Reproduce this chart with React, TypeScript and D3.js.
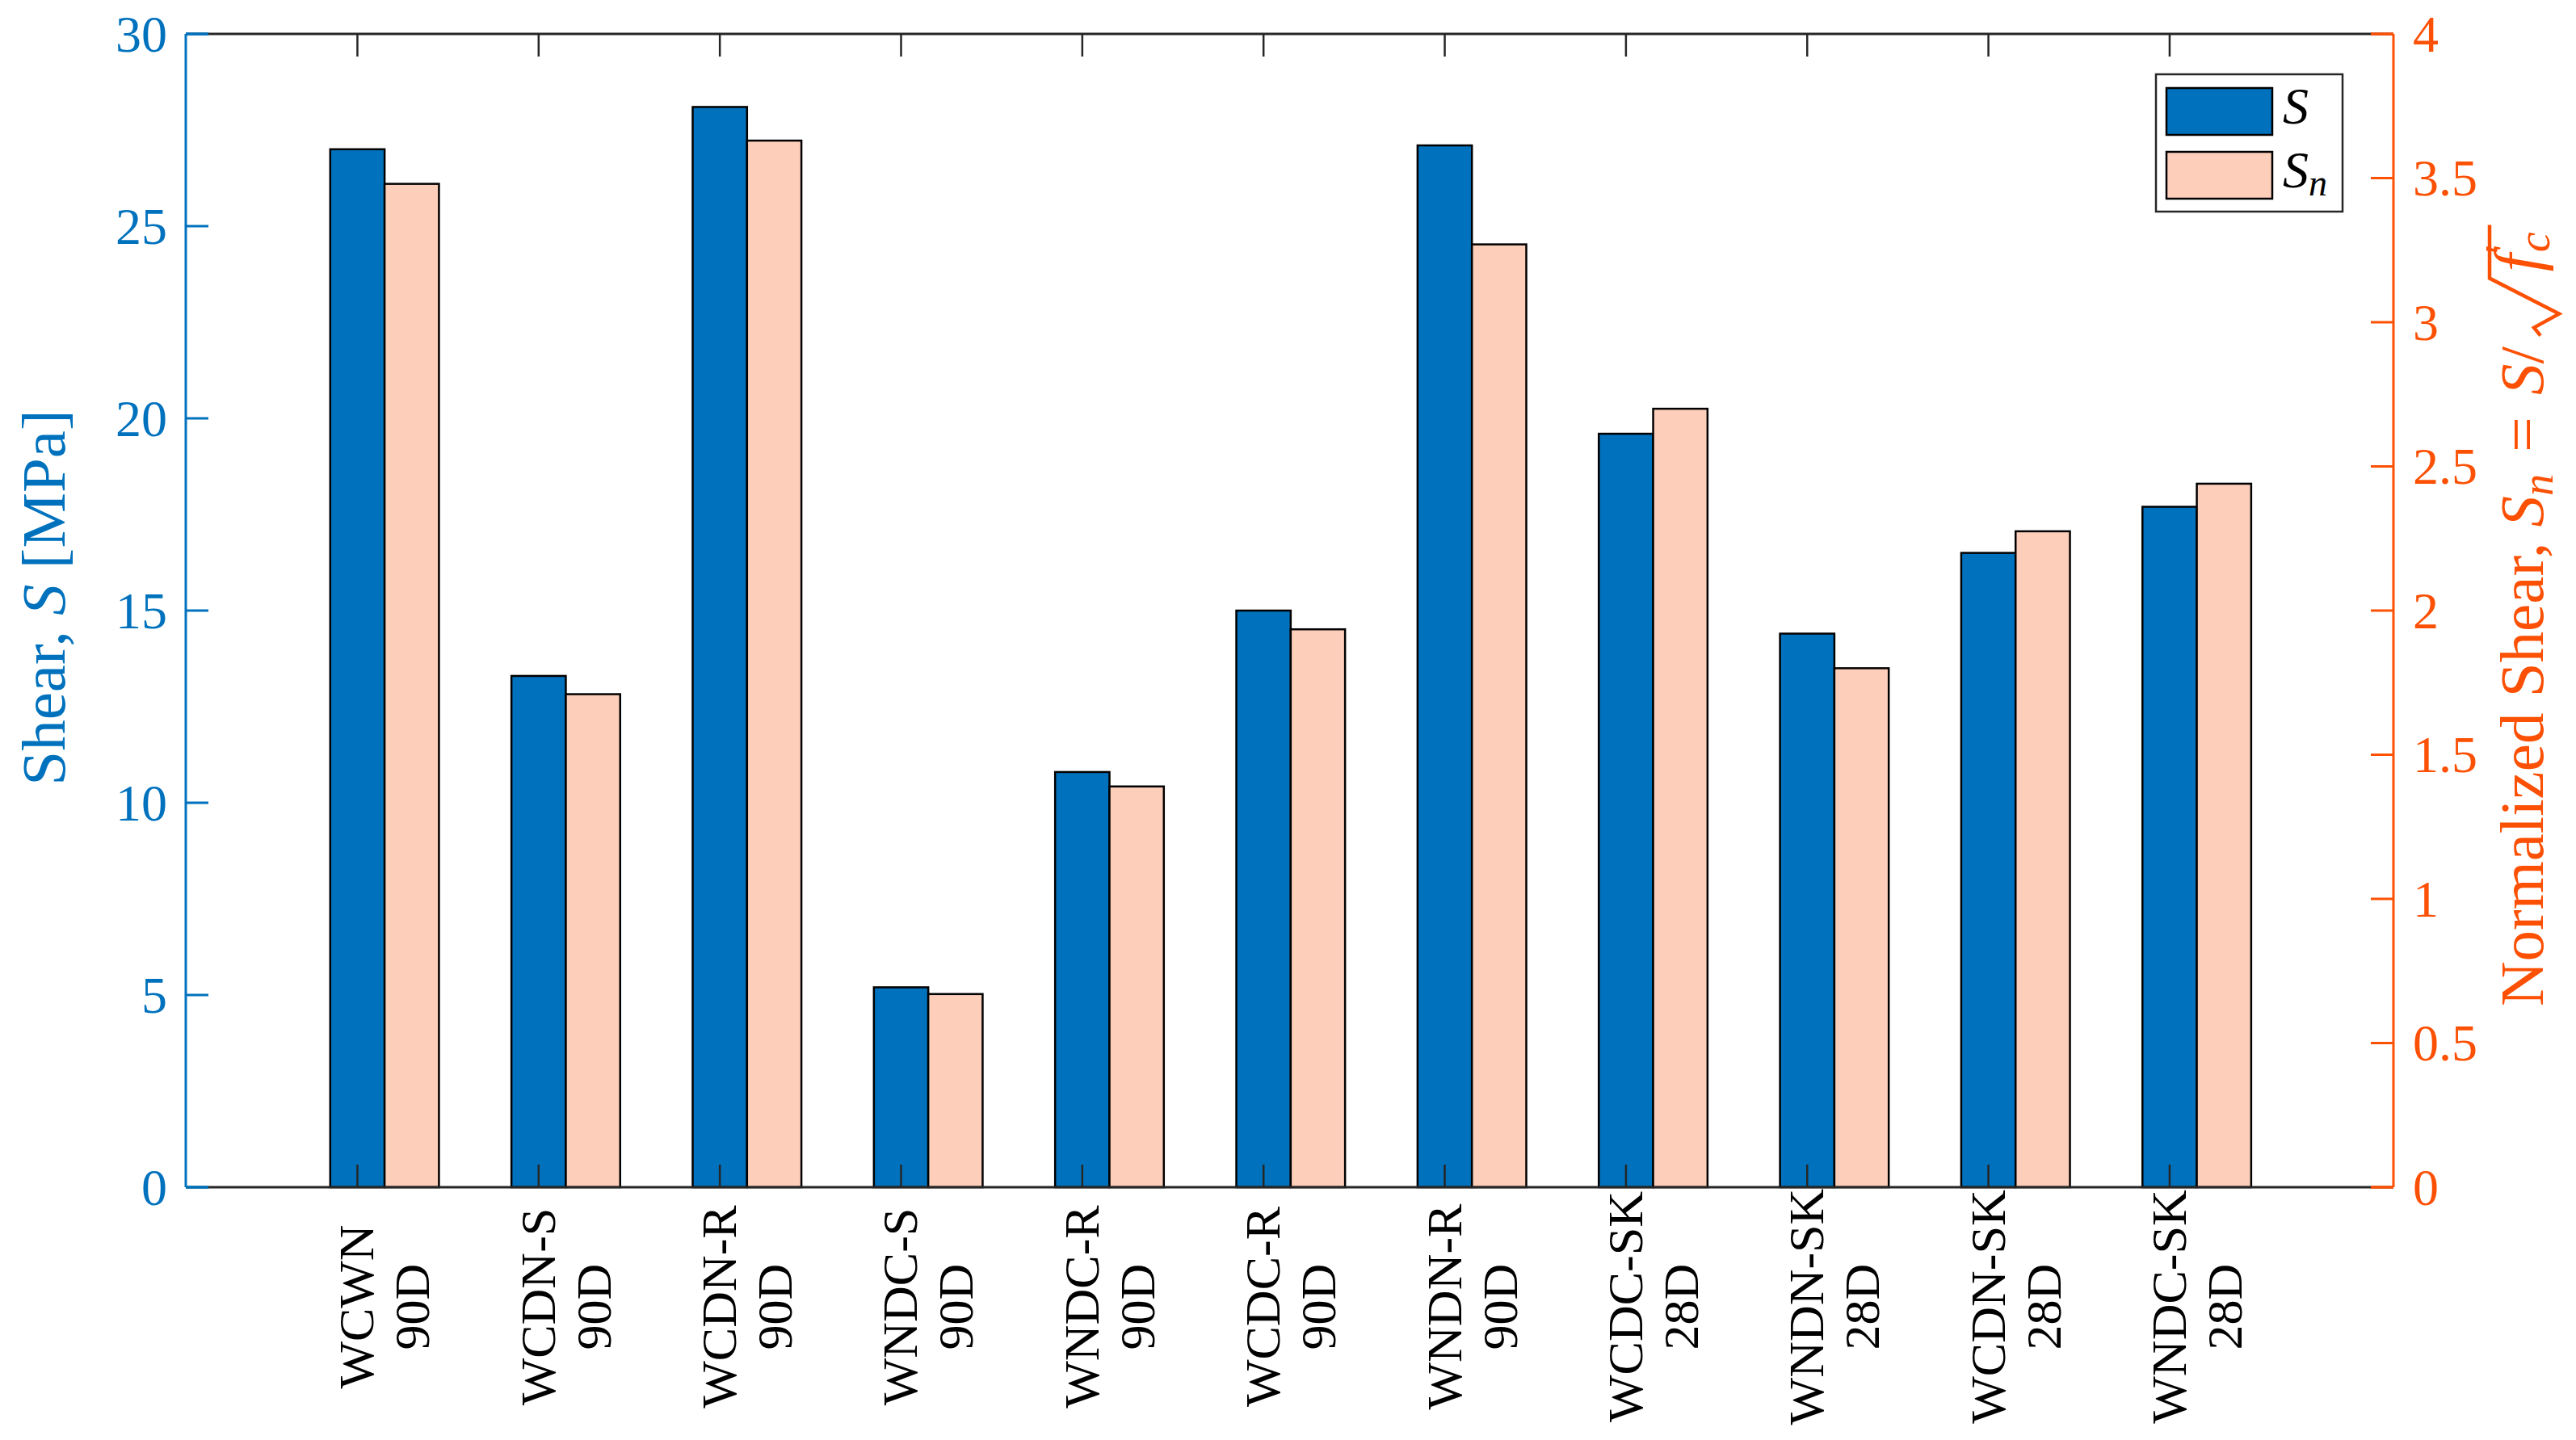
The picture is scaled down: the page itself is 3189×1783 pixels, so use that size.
import React, { useLayoutEffect, useRef, useState } from 'react';
import * as d3 from 'd3';

const specimen = ['WCWN', 'WCDN-S', 'WCDN-R', 'WNDC-S', 'WNDC-R', 'WCDC-R', 'WNDN-R', 'WCDC-SK', 'WNDN-SK', 'WCDN-SK', 'WNDC-SK'];
const age = ['90D', '90D', '90D', '90D', '90D', '90D', '90D', '28D', '28D', '28D', '28D'];
const shear = [27.0, 13.3, 28.1, 5.2, 10.8, 15.0, 27.1, 19.6, 14.4, 16.5, 17.7];
const normShear = [3.48, 1.71, 3.63, 0.67, 1.39, 1.935, 3.27, 2.70, 1.80, 2.275, 2.44];
const leftTicks = [0, 5, 10, 15, 20, 25, 30];
const rightTicks = [0, 0.5, 1, 1.5, 2, 2.5, 3, 3.5, 4];

const W = 3189, H = 1783;
const L = 230, R = 2963, T = 42, B = 1470;
const BLUE = '#0072BD';
const ORANGE = '#FC5004';
const PEACH = '#FDCEB9';
const AX = '#262626';
const FONT = "'Liberation Serif', 'Times New Roman', Times, serif";
const tf = { fontFamily: FONT };

export default function App() {
  const x = d3.scaleLinear().domain([0.053, 12.235]).range([L, R]);
  const yL = d3.scaleLinear().domain([0, 30]).range([B, T]);
  const yR = d3.scaleLinear().domain([0, 4]).range([B, T]);
  const bw = 0.3;
  const tickLen = 28;
  const pos = specimen.map((_, i) => i + 1);

  const prefixRef = useRef<SVGTextElement>(null);
  const [prefixLen, setPrefixLen] = useState(845);
  useLayoutEffect(() => {
    if (prefixRef.current) {
      const bb = prefixRef.current.getBBox();
      setPrefixLen(bb.width);
    }
  }, []);
  const startX = -490;
  const rs = startX + prefixLen + 20; // radical start (local)

  return (
    <svg width={W} height={H} style={{ position: 'absolute', left: 0, top: 0, background: '#fff' }}>
      <rect x={0} y={0} width={W} height={H} fill="#fff" />
      {/* bars */}
      {pos.map((p, i) => (
        <g key={'b' + i}>
          <rect x={x(p - bw / 2)} y={yL(shear[i])} width={x(p + bw / 2) - x(p - bw / 2)} height={yL(0) - yL(shear[i])}
            fill={BLUE} stroke="#000" strokeWidth={2.5} />
          <rect x={x(p + bw / 2)} y={yR(normShear[i])} width={x(p + 1.5 * bw) - x(p + bw / 2)} height={yR(0) - yR(normShear[i])}
            fill={PEACH} stroke="#000" strokeWidth={2.5} />
        </g>
      ))}
      {/* x ticks */}
      {pos.map((p, i) => (
        <g key={'xt' + i} stroke={AX} strokeWidth={2.5}>
          <line x1={x(p)} x2={x(p)} y1={B} y2={B - tickLen} />
          <line x1={x(p)} x2={x(p)} y1={T} y2={T + tickLen} />
        </g>
      ))}
      {/* box top/bottom */}
      <line x1={L} x2={R} y1={B} y2={B} stroke={AX} strokeWidth={3} />
      <line x1={L} x2={R} y1={T} y2={T} stroke={AX} strokeWidth={3} />
      <line x1={L} x2={L + tickLen} y1={B} y2={B} stroke={BLUE} strokeWidth={3} />
      <line x1={L} x2={L + tickLen} y1={T} y2={T} stroke={BLUE} strokeWidth={3} />
      <line x1={R - tickLen} x2={R} y1={B} y2={B} stroke={ORANGE} strokeWidth={3} />
      <line x1={R - tickLen} x2={R} y1={T} y2={T} stroke={ORANGE} strokeWidth={3} />
      {/* left axis */}
      <line x1={L} x2={L} y1={T} y2={B} stroke={BLUE} strokeWidth={3} />
      {leftTicks.map((t) => (
        <g key={'l' + t}>
          <line x1={L} x2={L + tickLen} y1={yL(t)} y2={yL(t)} stroke={BLUE} strokeWidth={3} />
          <text style={tf} x={L - 23} y={yL(t)} dy="0.34em" textAnchor="end" fontSize={64} fill={BLUE}>{t}</text>
        </g>
      ))}
      {/* right axis */}
      <line x1={R} x2={R} y1={T} y2={B} stroke={ORANGE} strokeWidth={3} />
      {rightTicks.map((t) => (
        <g key={'r' + t}>
          <line x1={R} x2={R - tickLen} y1={yR(t)} y2={yR(t)} stroke={ORANGE} strokeWidth={3} />
          <text style={tf} x={R + 24} y={yR(t)} dy="0.34em" textAnchor="start" fontSize={64} fill={ORANGE}>{t}</text>
        </g>
      ))}
      {/* x tick labels */}
      {pos.map((p, i) => (
        <g key={'xl' + i}>
          <text style={tf} transform={`translate(${x(p) + 20},1618) rotate(-90)`} textAnchor="middle" fontSize={62} fill="#000">{specimen[i]}</text>
          <text style={tf} transform={`translate(${x(p) + 89},1618) rotate(-90)`} textAnchor="middle" fontSize={62} fill="#000">{age[i]}</text>
        </g>
      ))}
      {/* left label */}
      <text style={tf} transform={`translate(80,740) rotate(-90)`} textAnchor="middle" fontSize={77} fill={BLUE}>
        Shear, <tspan fontStyle="italic">S</tspan> [MPa]
      </text>
      {/* right label */}
      <g transform={`translate(3148,756) rotate(-90)`} fill={ORANGE}>
        <text ref={prefixRef} style={tf} x={startX} y={0} fontSize={77}>
          Normalized Shear, <tspan fontStyle="italic">S</tspan>
          <tspan fontStyle="italic" fontSize={54} dy={12}>n</tspan>
          <tspan dy={-12} dx={8}>{' = '}</tspan>
          <tspan fontStyle="italic" dx={8}>S</tspan>
          <tspan>/</tspan>
        </text>
        <path d={`M${rs - 7},-3 L${rs + 3},-11 L${rs + 20},20 L${rs + 64},-66 L${rs + 130},-66`}
          fill="none" stroke={ORANGE} strokeWidth={4.5} strokeLinejoin="miter" />
        <text style={tf} x={rs + 72} y={-4} fontSize={80}>
          <tspan fontStyle="italic">f</tspan>
          <tspan fontSize={56} dy={-28}>{'\u2032'}</tspan>
          <tspan fontStyle="italic" fontSize={56} dx={-10} dy={40}>c</tspan>
        </text>
      </g>
      {/* legend */}
      <rect x={2669} y={92} width={231} height={170} fill="#fff" stroke={AX} strokeWidth={2.5} />
      <rect x={2682} y={109} width={131} height={58} fill={BLUE} stroke="#000" strokeWidth={2.5} />
      <rect x={2682} y={188} width={131} height={58} fill={PEACH} stroke="#000" strokeWidth={2.5} />
      <text style={tf} x={2826} y={153} fontSize={64} fontStyle="italic" fill="#000">S</text>
      <text style={tf} x={2826} y={232} fontSize={64} fontStyle="italic" fill="#000">S<tspan fontSize={46} dy={10}>n</tspan></text>
    </svg>
  );
}
